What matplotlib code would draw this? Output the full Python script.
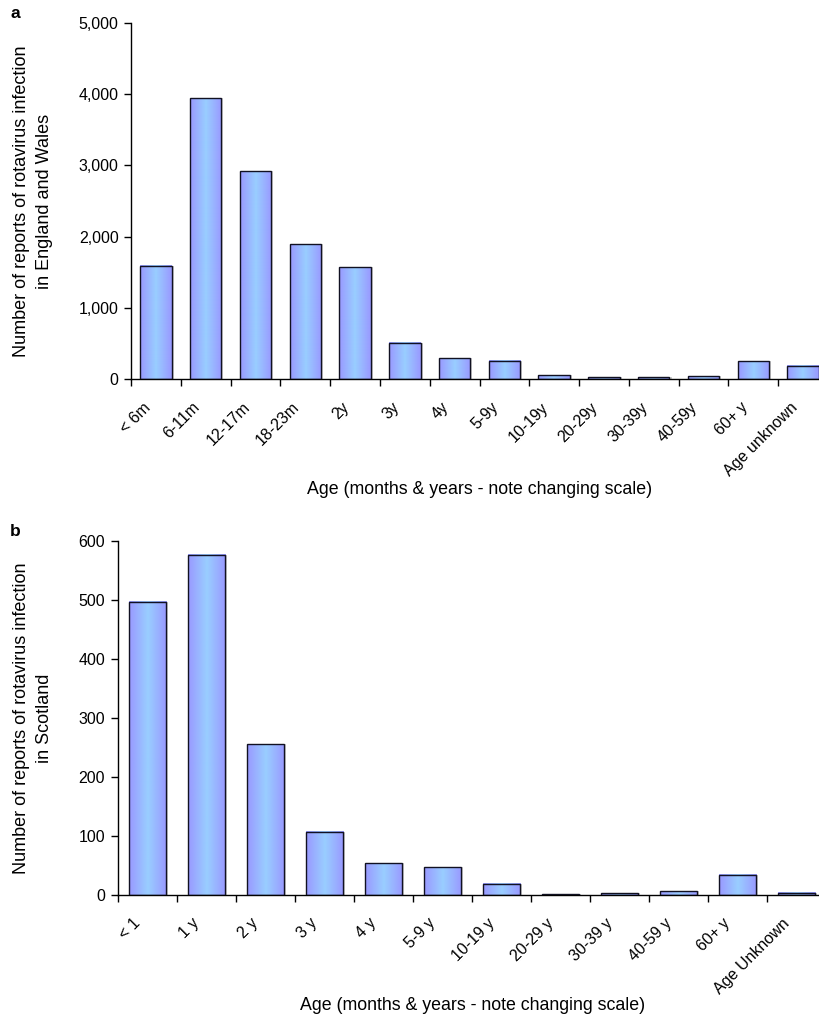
import numpy as np
import matplotlib
matplotlib.use('Agg')
import matplotlib.pyplot as plt
import matplotlib.patheffects as pe
from matplotlib.ticker import FuncFormatter

plt.rcParams['font.family'] = ['Liberation Sans', 'DejaVu Sans']

# England and Wales
ages_a = ['< 6m', '6-11m', '12-17m', '18-23m', '2y', '3y', '4y', '5-9y',
          '10-19y', '20-29y', '30-39y', '40-59y', '60+ y', 'Age unknown']
reports_a = [1590, 3940, 2920, 1890, 1570, 510, 290, 253,
             50, 22, 28, 42, 247, 183]

# Scotland
ages_b = ['< 1', '1 y', '2 y', '3 y', '4 y', '5-9 y', '10-19 y', '20-29 y',
          '30-39 y', '40-59 y', '60+ y', 'Age Unknown']
reports_b = [497, 576, 255, 107, 54, 47, 19, 1, 3, 6, 34, 4]

xlabel = 'Age (months & years - note changing scale)'
ylabel_a = 'Number of reports of rotavirus infection\nin England and Wales'
ylabel_b = 'Number of reports of rotavirus infection\nin Scotland'

edge_col = np.array([153, 153, 255]) / 255
mid_col = np.array([153, 206, 255]) / 255
u = np.linspace(0, 1, 64)
t = 1 - np.abs(2 * u - 1)
grad = (edge_col[None, :] * (1 - t[:, None]) + mid_col[None, :] * t[:, None])[None, :, :]


def panel(ax, labels, values, ymax, ystep, fmt, ylabel, lab_x):
    n = len(labels)
    x = np.arange(n)
    # light grey shadow on the right side of each bar
    ax.bar(x, values, 0.63, facecolor='none', edgecolor='none', zorder=1,
           path_effects=[pe.SimplePatchShadow(offset=(1.5, 0), shadow_rgbFace='0.8', alpha=1)])
    bars = ax.bar(x, values, 0.63, facecolor='none', edgecolor='#111122',
                  linewidth=1.0, zorder=3)
    for b in bars:
        ax.imshow(grad, extent=[b.get_x(), b.get_x() + b.get_width(), 0, b.get_height()],
                  aspect='auto', interpolation='bilinear', zorder=2)
    ax.set_xlim(-0.5, n - 0.5)
    ax.set_ylim(0, ymax)
    ax.set_yticks(np.arange(0, ymax + 1, ystep))
    ax.yaxis.set_major_formatter(FuncFormatter(fmt))
    # labels sit a little left of the category centre, as in the original
    ax.set_xticks(x - 0.1)
    ax.set_xticklabels(labels, rotation=45, ha='right', va='baseline',
                       rotation_mode='anchor')
    ax.set_xticks(np.arange(n + 1) - 0.5, minor=True)
    ax.tick_params(axis='x', which='major', length=0, pad=21, labelsize=11.5)
    ax.tick_params(axis='x', which='minor', length=5, width=1, direction='out')
    ax.tick_params(axis='y', length=5, width=1, direction='out', pad=4, labelsize=11.5)
    for s in ['top', 'right']:
        ax.spines[s].set_visible(False)
    for s in ['left', 'bottom']:
        ax.spines[s].set_linewidth(1)
    ax.set_ylabel(ylabel, fontsize=13, va='center', ha='center',
                  multialignment='center', linespacing=1.45)
    ax.yaxis.set_label_coords(lab_x, 0.5)


fig = plt.figure(figsize=(8.19, 10.17), dpi=100)
ax1 = fig.add_axes([131 / 819, 1 - 379 / 1017, 697 / 819, 356 / 1017])
ax2 = fig.add_axes([117.7 / 819, 1 - 895 / 1017, 708 / 819, 354.3 / 1017])

panel(ax1, ages_a, reports_a, 5000, 1000, lambda v, p: '{:,.0f}'.format(v),
      ylabel_a, (33 - 131) / 697)
panel(ax2, ages_b, reports_b, 600, 100, lambda v, p: '{:.0f}'.format(v),
      ylabel_b, (33 - 117.7) / 708)

fig.text(480 / 819, 1 - 490 / 1017, xlabel, fontsize=12.8, ha='center', va='center')
fig.text(473 / 819, 1 - 1006 / 1017, xlabel, fontsize=12.8, ha='center', va='center')
fig.text(15 / 819, 1 - 14 / 1017, 'a', fontsize=12.5, fontweight='bold', ha='center', va='center')
fig.text(15 / 819, 1 - 531 / 1017, 'b', fontsize=12.5, fontweight='bold', ha='center', va='center')

fig.savefig('out.png', dpi=100)
